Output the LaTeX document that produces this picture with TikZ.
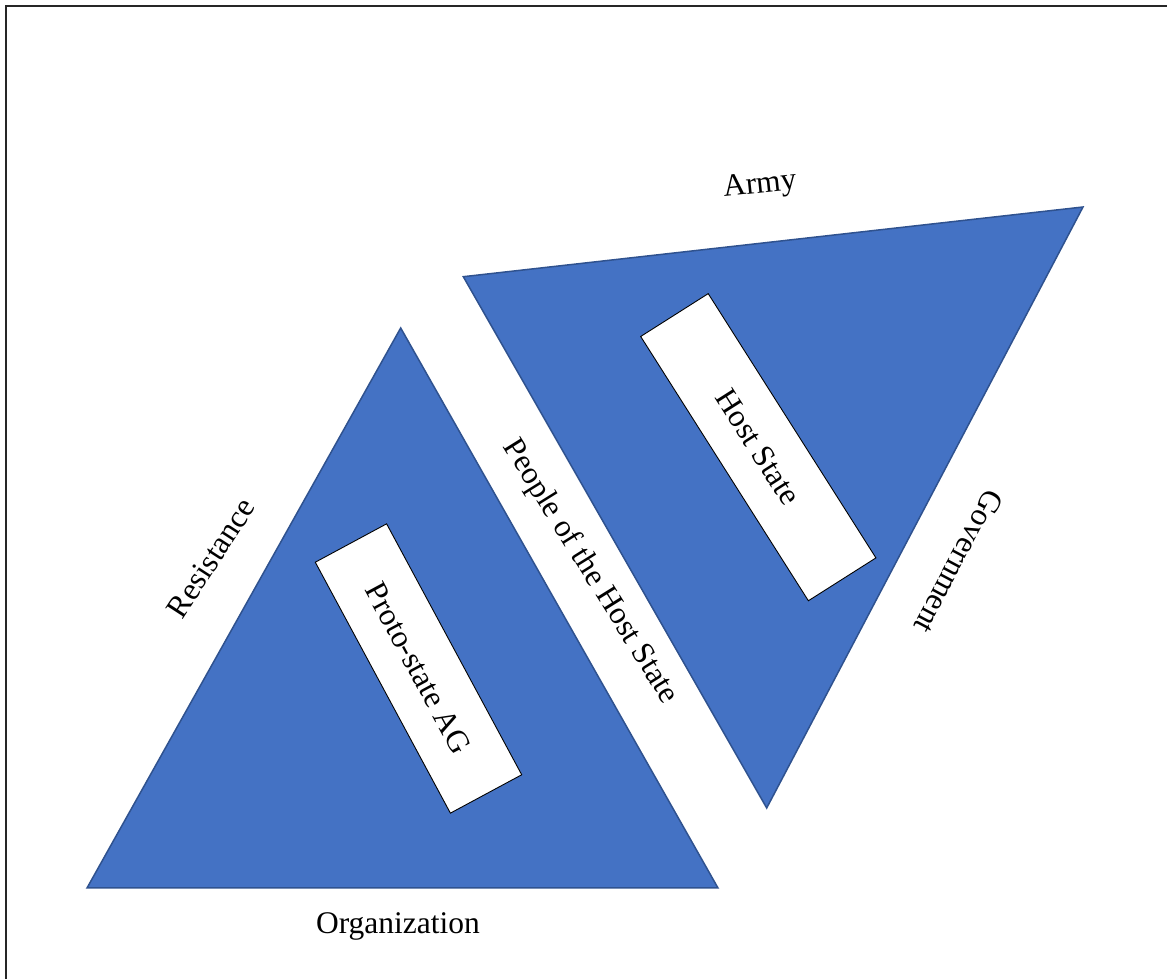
\documentclass[tikz,border=0pt]{standalone}
\usepackage{fontspec}
\setmainfont{Liberation Serif}
\definecolor{triblue}{HTML}{4472C4}
\definecolor{triedge}{HTML}{2F528F}
\begin{document}
\begin{tikzpicture}[x=1pt,y=1pt,
  tri/.style={fill=triblue,draw=triedge,line width=1.5pt,line join=miter},
  box/.style={draw=black,fill=white,line width=0.9pt,inner sep=0pt,
    minimum width=285pt,minimum height=81pt,font=\fontsize{31.5}{36}\selectfont},
  lbl/.style={inner sep=0pt,font=\fontsize{31.5}{36}\selectfont}]
\useasboundingbox (0,0) rectangle (1167,979);
\draw[line width=1.6pt,black!85] (6,0) -- (6,973) -- (1167,973);
% left triangle
\coordinate (la) at (400.7,651);
\coordinate (lb) at (87,91);
\coordinate (lc) at (718,91);
\draw[tri] (la) -- (lb) -- (lc) -- cycle;
% right triangle
\coordinate (ra) at (463.3,702.3);
\coordinate (rb) at (1083,772);
\coordinate (rc) at (766.7,171);
\draw[tri] (ra) -- (rb) -- (rc) -- cycle;
% boxes
\node[box,rotate=-61.7] (proto) at (418.5,310.5) {Proto-state AG};
\node[box,rotate=-57.6,minimum width=313pt,minimum height=80pt] (host) at (758.3,531.8) {Host State};
% labels
\node[lbl,rotate=6] (army) at (760,793) {Army};
\node[lbl,rotate=57] (resist) at (211,421) {Resistance};
\node[lbl] (org) at (398,53) {Organization};
\node[lbl,rotate=-58] (people) at (590,407) {People of the Host State};
\node[lbl,rotate=-118] (gov) at (959,417) {Government};
\end{tikzpicture}
\end{document}
